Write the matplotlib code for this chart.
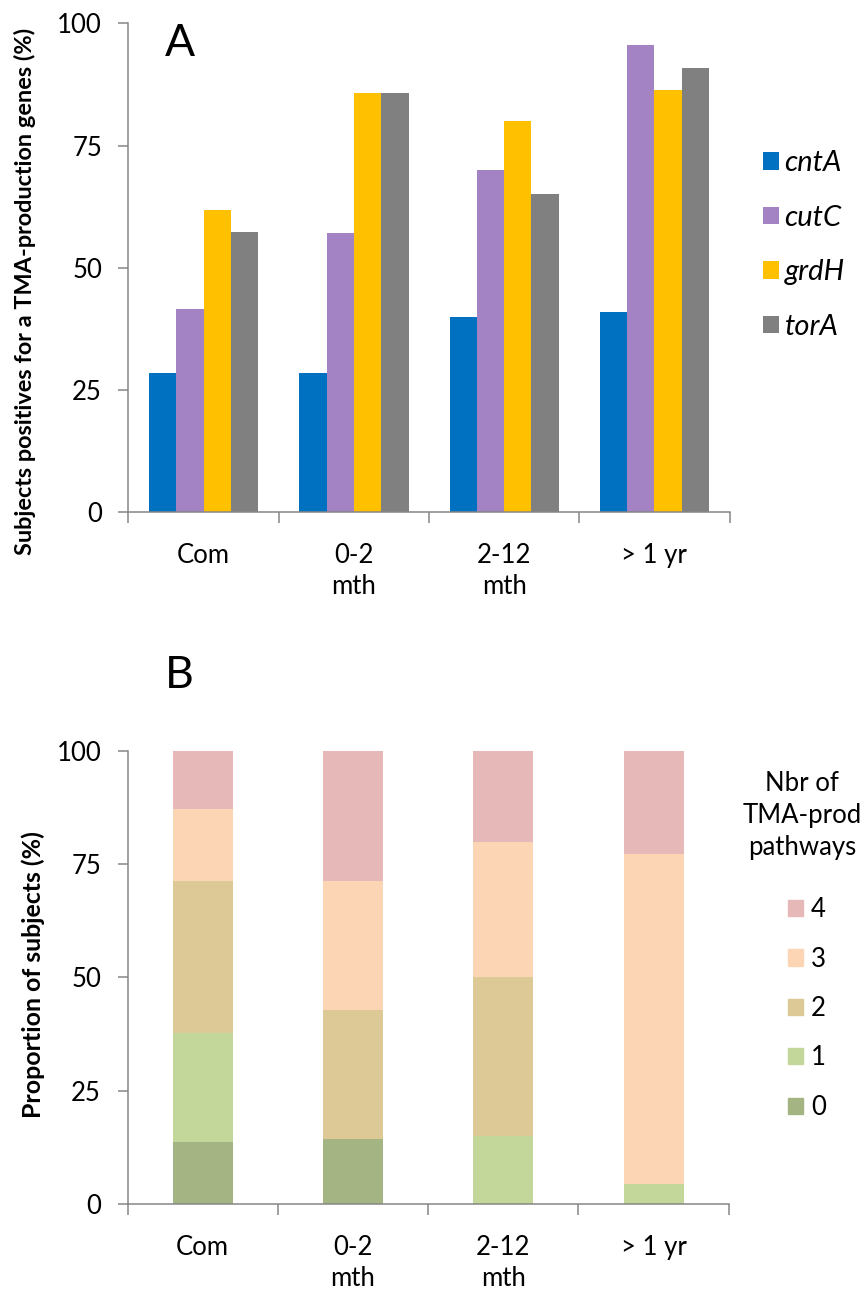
import numpy as np
import matplotlib
matplotlib.use("Agg")
import matplotlib.pyplot as plt
from matplotlib.patches import Patch

plt.rcParams['font.family'] = ['Lato', 'DejaVu Sans']

groups = ["Com", "0-2\nmth", "2-12\nmth", "> 1 yr"]

# panel A: % of subjects positive for each gene
genes = ["cntA", "cutC", "grdH", "torA"]
cntA = [28.5, 28.4, 40.0, 40.9]
cutC = [41.6, 57.1, 70.0, 95.5]
grdH = [61.9, 85.7, 80.0, 86.4]
torA = [57.4, 85.7, 65.0, 90.9]
gene_colors = ["#0070C0", "#A383C3", "#FFC000", "#808080"]

# panel B: number of TMA-production pathways (stacked %)
n_paths = ["0", "1", "2", "3", "4"]
p0 = [13.6, 14.3, 0.0, 0.0]
p1 = [24.2, 0.0, 15.0, 4.5]
p2 = [33.4, 28.6, 35.0, 0.0]
p3 = [15.9, 28.5, 30.0, 72.8]
p4 = [12.9, 28.6, 20.0, 22.7]
path_colors = ["#A5B483", "#C4D79B", "#DDC995", "#FCD5B5", "#E6B8B7"]

spine_col = "#868686"
fs = 18.5

fig = plt.figure(figsize=(8.68, 12.91), dpi=100)
axA = fig.add_axes([0.148, 0.6034, 0.6925, 0.3784])
axB = fig.add_axes([0.1469, 0.0674, 0.6927, 0.3509])

x = np.arange(len(groups))


def style(ax):
    for s in ["top", "right"]:
        ax.spines[s].set_visible(False)
    for s in ["left", "bottom"]:
        ax.spines[s].set_color(spine_col)
        ax.spines[s].set_linewidth(1.1)
    ax.set_xlim(-0.5, len(groups) - 0.5)
    ax.set_ylim(0, 100)
    ax.set_yticks([0, 25, 50, 75, 100])
    ax.set_xticks(np.arange(len(groups) + 1) - 0.5, minor=True)
    ax.set_xticks(x)
    ax.set_xticklabels(groups, fontsize=fs, linespacing=1.3)
    ax.tick_params(axis="x", which="major", length=0, pad=22)
    ax.tick_params(axis="x", which="minor", length=8, width=1.1, color=spine_col)
    ax.tick_params(axis="y", length=7, width=1.1, color=spine_col, labelsize=fs, pad=12)


# ---- A
w = 1 / (len(genes) + 1.5)
for i, (vals, g, c) in enumerate(zip([cntA, cutC, grdH, torA], genes, gene_colors)):
    axA.bar(x + (i - 1.5) * w, vals, w, color=c, linewidth=0, label=g)
style(axA)
axA.legend(loc="center left", bbox_to_anchor=(1.055, 0.5466), frameon=False,
           prop={"size": 21, "style": "italic"}, handlelength=0.55, handleheight=0.55,
           handletextpad=0.2, labelspacing=0.98, borderpad=0, borderaxespad=0)

# ---- B
bottom = np.zeros(len(groups))
handles = []
for vals, lab, c in zip([p0, p1, p2, p3, p4], n_paths, path_colors):
    axB.bar(x, vals, 0.4, bottom=bottom, color=c, linewidth=0)
    bottom += np.array(vals)
    handles.append(Patch(color=c, label=lab))
style(axB)
axB.legend(handles=handles[::-1], loc="center left", bbox_to_anchor=(1.098, 0.4316),
           frameon=False, fontsize=fs, handlelength=0.6, handleheight=0.6,
           handletextpad=0.3, labelspacing=0.95, borderpad=0, borderaxespad=0)
axB.text(1.1217, 0.8565, "Nbr of\nTMA-prod\npathways", transform=axB.transAxes,
         ha="center", va="center", fontsize=fs, linespacing=1.35, clip_on=False)

# labels
fig.text(0.029, 0.774, "Subjects positives for a TMA-production genes (%)",
         rotation=90, ha="center", va="center", fontsize=16.9, fontweight="bold")
fig.text(0.038, 0.2448, "Proportion of subjects (%)",
         rotation=90, ha="center", va="center", fontsize=17.9, fontweight="bold")
fig.text(0.2074, 0.9663, "A", ha="center", va="center", fontsize=32)
fig.text(0.2062, 0.4771, "B", ha="center", va="center", fontsize=32)

fig.savefig("out.png", dpi=100)
